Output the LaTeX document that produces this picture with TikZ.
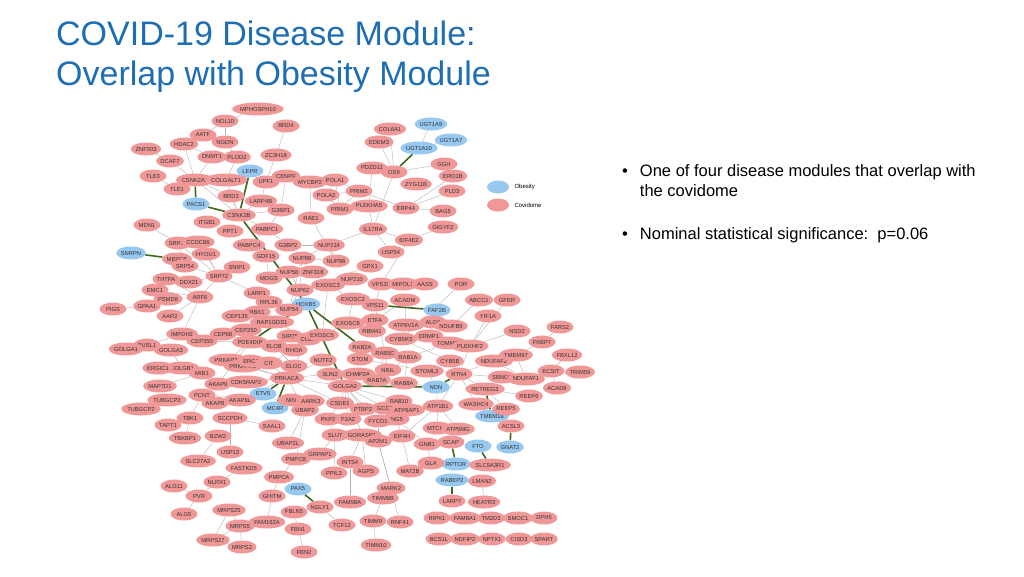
\documentclass[tikz,border=0pt]{standalone}
\usepackage{fontspec}
\setmainfont{Liberation Sans}
\pgfdeclarelayer{bg}\pgfsetlayers{bg,main}
\definecolor{cov}{RGB}{240,152,152}
\definecolor{obe}{RGB}{150,200,240}
\definecolor{ttl}{RGB}{30,110,180}
\definecolor{grn}{RGB}{60,105,30}
\tikzset{
 cv/.style={ellipse,fill=cov,minimum width=27pt,minimum height=13pt,inner sep=0.3pt,font=\fontsize{5.8}{6}\selectfont,text=black!80},
 ob/.style={cv,fill=obe},
 ge/.style={draw=black!30,line width=0.4pt},
 gg/.style={draw=grn,line width=1.6pt}
}
\usetikzlibrary{shapes.geometric}
\begin{document}
\begin{tikzpicture}[x=1pt,y=-1pt]
\useasboundingbox (0,0) rectangle (1024,576);
\node[anchor=north west,align=left,text=ttl,font=\fontsize{34}{40}\selectfont,inner sep=0pt] (title) at (56,21) {COVID-19 Disease Module:\\Overlap with Obesity Module};
\node[anchor=north west,align=left,font=\fontsize{16.5}{20}\selectfont,inner sep=0pt] (b1) at (622,164) {\textbullet\hspace{12pt}\parbox[t]{360pt}{One of four disease modules that overlap with\\the covidome}};
\node[anchor=north west,align=left,font=\fontsize{16.5}{20}\selectfont,inner sep=0pt] (b2) at (622,227) {\textbullet\hspace{12pt}Nominal statistical significance:\ \ p=0.06};
% legend
\node[ob,minimum width=22pt,minimum height=13pt] (lo) at (498,187) {};
\node[anchor=west,font=\fontsize{6}{6}\selectfont] (lot) at (511,187) {Obesity};
\node[cv,minimum width=22pt,minimum height=13pt] (lc) at (498,205) {};
\node[anchor=west,font=\fontsize{6}{6}\selectfont] (lct) at (511,205) {Covidome};
% obesity nodes
\foreach \n/\x/\y in {LEPR/250/171,PACS1/196/204,SNRPN/131/253,UGT1A9/431/124,UGT1A7/451/140,UGT1A10/419/148,HOXB5/306/304,FAF2B/437/310,NDN/436/387,ETV5/263/394,MC4R/275/408,TMEM18/492/416,FTO/478/446,GNAT2/510/447,RPTOR/456/464,RABEP2/452/480,PAX5/298/489}
 {\node[ob] (\n) at (\x,\y) {\n};}
% covidome nodes
\foreach \n/\x/\y in {MPHOSPH10/258/109,NOL10/225/121,BRD4/286/126,AATF/203/135,NGDN/225/142,HDAC2/184/144,ZNF503/146/149,ZC3H18/276/155,DNMT1/212/157,PLOD2/237/157,DCAF7/170/161,CENPF/286/176,TLE3/153/176,CSNK2A2/195/180,COLGALT1/226/180,UPF1/266/182,MYCBP2/310/182,POLA1/335/180,TLE1/177/189,BRD2/231/196,LARP4B/261/201,POLA2/326/195,CSNK2B/239/215,G3BP1/281/210,PRIM1/340/209,RAE1/311/218,MDN1/147/225,ITGB1/207/222,PPT1/230/231,PABPC1/267/229,SRP19/178/243,CCDC86/198/242,PABPC4/249/245,G3BP2/288/245,NUP214/329/245,MEPCE/177/259,HYOU1/206/254,GDF15/266/256,
COL6A1/390/129,EDEM3/379/142,GGH/444/164,PDZD11/372/168,OS9/394/172,ERO1B/453/176,ZYG11B/416/184,PRIM2/359/191,PLD3/452/191,PLEKHA5/369/206,ERP44/406/208,BAG5/443/211,GIGYF2/443/227,IL17RA/373/229,EIF4E2/409/240,USP54/391/252,
SRP54/185/266,SNIP1/237/267,NUP88/302/258,NUP98/336/261,NUP58/289/272,ZNF318/313/272,MOGS/269/278,GPX1/370/266,NUP210/352/279,NUP62/300/290,EXOSC3/328/285,EXOSC2/353/299,NUP54/289/310,RPL36/269/302,RBX1/257/312,LARP1/257/293,VPS39/381/284,MIPOL1/403/284,AASS/425/284,POR/461/284,VPS11/375/305,ACADM/405/300,ABCC1/479/300,GFER/507/300,YIF1A/488/316,ETFA/375/320,EXOSC8/348/323,ALG8/433/322,ATP6V1A/406/325,NDUFB9/451/326,RBM41/372/331,NSD2/517/331,FARS2/560/327,CYB5R3/401/339,ERMP1/429/336,RAB2A/362/347,TOMM70/449/343,PLEKHF2/470/346,FKBP7/542/342,RAB5C/385/353,STOM/360/359,RAB1A/408/357,CYB5B/450/361,NDUFAF2/494/361,TMEM97/516/355,FBXL12/567/355,NINL/388/370,STOML2/427/371,CHMP2A/358/374,RTN4/459/374,SBNO1/502/377,NDUFAF1/526/379,ECSIT/551/371,TRIM59/580/372,ACAD9/557/388,RAB7A/377/380,RAB8A/404/383,GOLGA2/345/386,RETREG3/485/389,REEP6/529/396,CSDE1/340/403,GCC1/385/408,RAB10/399/401,ATP1B1/438/406,WASHC4/476/404,
THTPA/166/279,DDX21/189/282,SRP72/219/276,EMC1/155/290,PSMD8/168/299,ARF6/200/297,PIGS/113/309,GPAA1/147/306,AAR2/170/316,IMPDH2/182/334,CEP135/237/316,RAP1GDS1/272/322,CEP250/246/330,CEP68/223/334,CEP350/202/341,PDE4DIP/250/342,SIRT5/290/336,CUL2/308/339,EXOSC5/322/335,ELOB/274/346,RHOA/294/350,NUTF2/323/360,ELOC/294/366,SUN2/330/374,PUSL1/147/345,GOLGA1/126/349,GOLGA3/171/350,PRKAR2A/228/360,PRKAR2B/243/366,ERC1/251/361,CIT/269/363,GOLGB1/182/368,ERGIC1/158/368,MIB1/202/373,PRKACA/287/378,CDK5RAP2/246/382,AKAP9/218/384,MAP7D1/160/386,PCNT/202/395,TUBGCP3/167/400,AKAP8/215/403,AKAP8L/240/400,NIN/291/400,AARK3/311/401,UBAP2/305/410,TUBGCP2/141/409,TBK1/190/418,TAPT1/168/425,TBKBP1/185/438,SCCPDH/230/418,SAAL1/272/426,BZW2/218/436,USP13/230/452,SLC27A2/198/461,UBAP2L/288/443,FASTKD5/244/468,PMPCB/296/459,GRPAP1/320/454,PMPCA/279/477,NLRX1/217/482,ALG11/174/486,PVR/199/496,GHITM/272/496,NGLY1/320/507,FBLN5/294/512,MRPS25/229/510,MRPS5/240/526,ALG5/184/514,FAM162A/267/522,FBN1/298/529,TCF12/342/525,MRPS27/213/540,MRPS2/242/547,FBN2/304/552,
PTBP2/363/409,P2A2/348/419,PKP2/328/419,ATP6AP1/407/410,ING5/396/419,FYCO1/378/421,SLU7/335/435,GORASP1/362/435,AP2M1/378/441,EIF4H/402/436,GNB1/427/444,MTCH1/437/428,ATP5MG/458/429,SCAP/451/442,REEP5/506/409,ACSL3/511/426,SLC9A3R1/490/465,GLA/431/463,INTS4/350/462,AGPS/366/471,MAT2B/410/471,LMAN2/482/481,MARK2/391/488,PPIL3/334/473,TIMM8B/383/498,FAM98A/350/502,LARP7/452/501,HEATR3/484/502,TIMM9/373/521,RNF41/400/522,RIPK1/437/518,FAM8A1/465/518,TM2D3/491/518,SMOC1/518/518,DPH5/544/518,BCS1L/439/539,NDFIP2/465/539,NPTX1/492/539,CISD3/519/539,SPART/544/539,TIMM10/376/545}
 {\node[cv] (\n) at (\x,\y) {\n};}
\begin{pgfonlayer}{bg}
\foreach \a/\b in {MPHOSPH10/NOL10,NOL10/AATF,NOL10/NGDN,AATF/NGDN,HDAC2/DNMT1,HDAC2/CSNK2A2,ZNF503/DCAF7,DCAF7/CSNK2A2,DNMT1/CSNK2A2,PLOD2/COLGALT1,NGDN/PLOD2,BRD4/ZC3H18,ZC3H18/UPF1,UPF1/LARP4B,LARP4B/CSNK2B,COLGALT1/CSNK2B,CSNK2A2/CSNK2B,TLE3/TLE1,TLE1/CSNK2A2,BRD2/CSNK2B,CENPF/G3BP1,ITGB1/CSNK2B,G3BP1/PABPC1,PABPC1/PABPC4,PABPC1/G3BP2,G3BP2/NUP214,G3BP1/LARP4B,MYCBP2/RAE1,POLA1/POLA2,POLA1/PRIM1,POLA2/PRIM1,POLA1/PRIM2,PRIM2/PRIM1,POLA2/PRIM2,RAE1/NUP98,NUP214/NUP98,NUP214/NUP88,NUP88/NUP98,NUP88/NUP62,NUP62/NUP54,NUP58/NUP62,NUP54/NUP88,CSNK2B/PABPC1,CSNK2B/G3BP1,CSNK2A2/BRD2,MDN1/SRP19,SRP19/SRP54,SRP19/SRP72,SRP54/SRP72,SRP72/ARF6,CCDC86/SRP72,HYOU1/SRP72,SNIP1/SRP72,MOGS/GDF15,EDEM3/OS9,COL6A1/OS9,UGT1A9/UGT1A10,UGT1A7/UGT1A10,OS9/GGH,ERO1B/ERP44,PLD3/ERP44,BAG5/ERP44,PRIM2/ERP44,PDZD11/PLEKHA5,OS9/IL17RA,PLEKHA5/IL17RA,IL17RA/EIF4E2,EIF4E2/GIGYF2,IL17RA/USP54,IL17RA/NUP214,EIF4E2/VPS39,PSMD8/ARF6,ARF6/IMPDH2,PIGS/GPAA1,EMC1/ARF6,DDX21/SRP72,THTPA/ARF6,AAR2/ARF6,SRP72/LARP1,LARP1/RPL36,RPL36/RBX1,RBX1/NUP54,EXOSC3/EXOSC2,EXOSC2/EXOSC8,EXOSC8/EXOSC5,EXOSC3/EXOSC5,NUP210/NUP62,GPX1/NUP62,VPS11/VPS39,VPS11/RAB5C,RAB5C/RAB7A,RAB7A/RAB1A,RAB1A/RAB2A,RAB2A/STOM,STOM/STOML2,STOM/RAB5C,RAB8A/RAB1A,NINL/RAB5C,RTN4/CYB5B,RTN4/PLEKHF2,RTN4/SBNO1,RTN4/RETREG3,RTN4/ATP1B1,PLEKHF2/YIF1A,PLEKHF2/GFER,PLEKHF2/NSD2,POR/CYB5R3,CYB5R3/CYB5B,ABCC1/NDUFB9,NDUFB9/ALG8,ERMP1/ALG8,TOMM70/RAB1A,TMEM97/FKBP7,TMEM97/NDUFAF1,FARS2/FKBP7,NDUFAF2/NDUFAF1,NDUFAF1/ECSIT,ECSIT/ACAD9,ECSIT/TRIM59,FBXL12/ECSIT,RETREG3/REEP6,RETREG3/REEP5,ACADM/ETFA,ATP6V1A/CYB5R3,ATP6V1A/ACADM,MIPOL1/AASS,GOLGA2/RAB10,GOLGA2/GCC1,GOLGA2/PTBP2,GOLGA2/CSDE1,GOLGA2/CHMP2A,GOLGA2/GORASP1,GOLGA2/PRKACA,GOLGA2/RAB7A,GOLGA2/P2A2,GOLGA2/FYCO1,PRKACA/PRKAR2A,PRKACA/PRKAR2B,PRKACA/AKAP9,PRKACA/CDK5RAP2,PRKACA/SUN2,PRKACA/UBAP2,PRKACA/CSDE1,PRKACA/ELOC,PRKACA/NUTF2,PRKACA/CIT,ELOB/ELOC,ELOC/CUL2,CUL2/RBX1,ELOB/SIRT5,RHOA/CIT,CEP68/PDE4DIP,PDE4DIP/CEP250,CEP250/CEP135,CEP350/PDE4DIP,PDE4DIP/PRKAR2A,PDE4DIP/AKAP9,AKAP9/PCNT,AKAP9/MIB1,GOLGB1/MIB1,GOLGA3/GOLGB1,PUSL1/GOLGA1,PUSL1/IMPDH2,ERGIC1/GOLGB1,MAP7D1/MIB1,PCNT/TUBGCP3,TUBGCP3/TUBGCP2,PCNT/AKAP8,AKAP8L/PRKACA,TBK1/TAPT1,TBK1/TBKBP1,TBK1/PCNT,SCCPDH/SAAL1,SCCPDH/USP13,BZW2/SLC27A2,UBAP2/UBAP2L,UBAP2/PMPCB,PMPCB/PMPCA,PMPCA/GHITM,GHITM/FAM162A,FASTKD5/NLRX1,NLRX1/PVR,PVR/ALG11,PVR/ALG5,MRPS25/MRPS5,MRPS25/MRPS27,MRPS5/MRPS27,MRPS5/MRPS2,MRPS27/MRPS2,FBLN5/FBN1,FBN1/FBN2,NGLY1/TCF12,SLU7/PPIL3,SLU7/PKP2,INTS4/GORASP1,GORASP1/AGPS,AP2M1/MARK2,AP2M1/RNF41,FAM98A/INTS4,TIMM8B/TIMM9,TIMM9/TIMM10,ATP1B1/MTCH1,ATP1B1/ATP5MG,ATP1B1/EIF4H,EIF4H/MAT2B,GNB1/GLA,LMAN2/HEATR3,GRPAP1/SLU7,NIN/PCNT,AARK3/UBAP2,CSDE1/PKP2,GCC1/RAB10,ING5/EIF4H,ATP6AP1/ATP1B1,NDN/ATP1B1,GNB1/ING5,WASHC4/RTN4,NDUFAF2/RTN4,STOML2/NDN,RAB8A/NDN,CHMP2A/SUN2,SUN2/GOLGA2,PTBP2/P2A2,FYCO1/AP2M1,GORASP1/SLU7}
 {\draw[ge] (\a) -- (\b);}
\foreach \a/\b in {LEPR/CSNK2B,PACS1/CSNK2A2,PACS1/CSNK2B,CSNK2B/HOXB5,SNRPN/MEPCE,UGT1A10/OS9,HOXB5/PDE4DIP,HOXB5/RAB2A,HOXB5/GOLGA2,VPS11/FAF2B,GOLGA2/NDN,NDN/RTN4,RETREG3/TMEM18,PRKACA/ETV5,PRKACA/MC4R,SCAP/RPTOR,FTO/SLC9A3R1,RABEP2/LARP7,ACSL3/GNAT2,PAX5/NGLY1}
 {\draw[gg] (\a) -- (\b);}
\end{pgfonlayer}
\end{tikzpicture}
\end{document}
